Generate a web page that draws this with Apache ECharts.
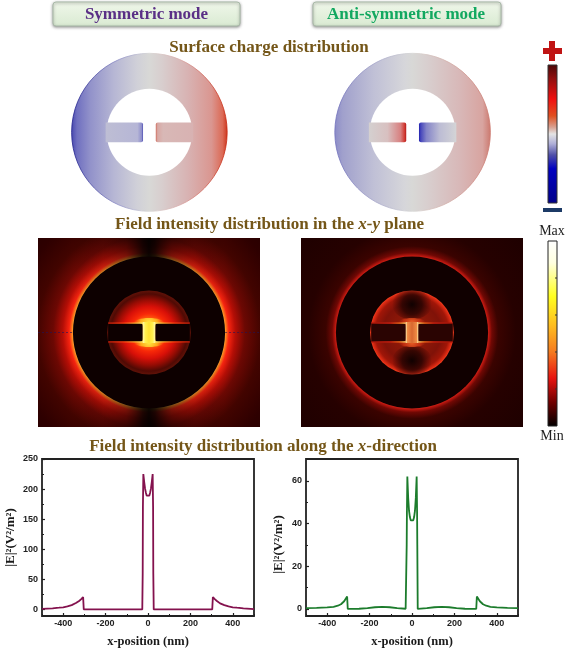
<!DOCTYPE html>
<html style="height: 100%">
<head>
  <meta charset="utf-8">
  <style>
    body { background: #fff; margin: 0; }
  </style>
</head>
<body style="height: 100%; margin: 0">
  <div id="container" style="width: 567px; height: 648px"></div>

  <script type="text/javascript" src="https://cdn.jsdelivr.net/npm/echarts@6/dist/echarts.min.js"></script>
  <script type="text/javascript">
    // values
    var symX = [-500, -450, -420, -400, -380, -360, -340, -325, -315, -306, -303, -250, -100, -27, -25, -24, -22, -18, -14, -10, -6, -3, 0, 3, 6, 10, 14, 18, 22, 24, 25, 27, 100, 250, 303, 306, 315, 325, 340, 360, 380, 400, 420, 450, 500];
    var symE = [1, 1.8, 2.8, 3.5, 5, 7, 10.5, 14, 17, 20.5, 0, 0, 0, 0, 60, 170, 225, 212, 201, 194, 189, 188, 188, 188, 189, 194, 201, 212, 225, 170, 60, 0, 0, 0, 0, 20.5, 17, 14, 10, 7, 5, 3.5, 2.8, 1.8, 0.5];
    var antiX = [-500, -450, -400, -370, -350, -335, -320, -306, -303, -250, -210, -175, -140, -105, -70, -30, -27, -25, -24, -22, -18, -14, -10, -6, -3, 0, 3, 6, 10, 14, 18, 22, 24, 25, 27, 30, 70, 105, 140, 175, 210, 250, 303, 306, 320, 335, 350, 370, 400, 450, 500];
    var antiE = [0.4, 0.5, 0.7, 1, 1.5, 2.2, 3.6, 5.8, 0, 0.1, 0.4, 0.8, 1, 0.8, 0.4, 0.1, 0, 30, 45, 62, 52, 46, 43, 41.5, 41, 41, 41, 41.5, 43, 46, 52, 62, 45, 30, 0, 0.1, 0.4, 0.8, 1, 0.8, 0.4, 0.1, 0, 5.8, 3.6, 2.2, 1.5, 1, 0.7, 0.5, 0.4];
    var xMajor = [-400, -200, 0, 200, 400];
    var xMinor = [-500, -300, -100, 100, 300, 500];
    var symYMajor = [0, 50, 100, 150, 200, 250];
    var symYMinor = [25, 75, 125, 175, 225];
    var antiYMajor = [0, 20, 40, 60];
    var antiYMinor = [10, 30, 50, 70];

    // nanostructure size in nm: ring outer, ring inner, arm half height, gap half width
    var particle = [305, 168, 38, 25];

    var serif = '"Liberation Serif", serif';
    var sans = '"Liberation Sans", sans-serif';
    var brown = '#745618';

    function zip(a, b) {
      return a.map(function (v, i) { return [v, b[i]]; });
    }

    function stops(list) {
      return list.map(function (s) { return { offset: s[0], color: s[1] }; });
    }

    function linearX(x0, x1, list) {
      return { type: 'linear', x: x0, y: 0, x2: x1, y2: 0, global: true, colorStops: stops(list) };
    }

    function radial(x, y, r, list) {
      return { type: 'radial', x: x, y: y, r: r, global: true, colorStops: stops(list) };
    }

    // pixel geometry of the particle on the current grid
    function geom(params, api) {
      var c = api.coord([0, 0]);
      var o = api.size([api.value(0), api.value(0)]);
      var i = api.size([api.value(1), api.value(1)]);
      var a = api.size([api.value(3), api.value(2)]);
      return { cx: c[0], cy: c[1], rx: o[0], ry: o[1], hx: i[0], hy: i[1], g: a[0], a: a[1], box: params.coordSys };
    }

    function chargeItem(palette) {
      return function (params, api) {
        var p = geom(params, api);
        var left = p.cx - p.rx, right = p.cx + p.rx;
        var armEnd = p.hx * Math.sqrt(1 - (p.a * p.a) / (p.hy * p.hy)) + 2;
        return {
          type: 'group',
          children: [
            { type: 'ellipse', shape: { cx: p.cx, cy: p.cy, rx: p.rx, ry: p.ry },
              style: { fill: linearX(left, right, palette.ring), stroke: linearX(left, right, palette.rim), lineWidth: 0.8 } },
            { type: 'ellipse', shape: { cx: p.cx, cy: p.cy, rx: p.hx, ry: p.hy }, style: { fill: '#fff' } },
            { type: 'rect', shape: { x: p.cx - armEnd, y: p.cy - p.a, width: armEnd - p.g, height: 2 * p.a, r: [0, 2, 2, 0] },
              style: { fill: linearX(p.cx - armEnd, p.cx - p.g, palette.leftArm) } },
            { type: 'rect', shape: { x: p.cx + p.g, y: p.cy - p.a, width: armEnd - p.g, height: 2 * p.a, r: [2, 0, 0, 2] },
              style: { fill: linearX(p.cx + p.g, p.cx + armEnd, palette.rightArm) } }
          ]
        };
      };
    }

    var chargeSym = {
      ring: [[0, '#4a4ab0'], [0.035, '#7070c0'], [0.12, '#9292ca'], [0.27, '#b6b6d4'], [0.42, '#d0d0d8'], [0.5, '#d8d8d6'], [0.58, '#d8cece'], [0.75, '#d8b2b2'], [0.9, '#da9690'], [0.97, '#dc6a56'], [1, '#cc3820']],
      rim: [[0, '#20208c'], [0.3, '#9090c8'], [0.5, '#d8d8d6'], [0.7, '#d8a8a8'], [1, '#c82810']],
      leftArm: [[0, '#bebed4'], [0.85, '#b6b6d6'], [0.96, '#9090cc'], [1, '#5050b4']],
      rightArm: [[0, '#d07060'], [0.05, '#d8a8a4'], [0.2, '#d8b8b6'], [1, '#d8b2b2']]
    };
    var chargeAnti = {
      ring: [[0, '#8c8cc8'], [0.05, '#a0a0cc'], [0.25, '#c0c0d6'], [0.45, '#d6d6da'], [0.5, '#d8d8d6'], [0.6, '#d8cece'], [0.8, '#d8b8b8'], [0.95, '#d8a4a0'], [1, '#cc7a70']],
      rim: [[0, '#7070bc'], [0.5, '#d8d8d6'], [1, '#cc7a70']],
      leftArm: [[0, '#d4d0d0'], [0.5, '#d8c0c0'], [0.85, '#d88080'], [0.96, '#d03830'], [1, '#b01818']],
      rightArm: [[0, '#2020b0'], [0.05, '#4848bc'], [0.2, '#8484c8'], [0.55, '#bcbcd4'], [1, '#d4d4d6']]
    };

    function fieldSymItem(params, api) {
      var p = geom(params, api), b = p.box;
      var R = p.rx, H = p.hx;
      var armEnd = Math.sqrt(H * H - p.a * p.a);
      var flare = [[0, 'rgba(255,235,70,1)'], [0.55, 'rgba(255,190,30,0.8)'], [1, 'rgba(255,120,20,0)']];
      var edgeL = [[0, '#d01c08'], [0.45, '#ff4010'], [0.78, '#ffb030'], [1, '#fff070']];
      var edgeR = [[0, '#fff070'], [0.22, '#ffb030'], [0.55, '#ff4010'], [1, '#d01c08']];
      return {
        type: 'group',
        children: [
          { type: 'rect', shape: { x: b.x, y: b.y, width: b.width, height: b.height },
            style: { fill: radial(p.cx, p.cy, 2.1 * R, [[0, '#000'], [0.47, '#ffd060'], [0.48, '#ff8a20'], [0.5, '#f82410'], [0.54, '#b40e06'], [0.6, '#6c0803'], [0.7, '#420400'], [0.85, '#2e0000'], [1, '#240000']]) } },
          { type: 'rect', shape: { x: b.x, y: b.y, width: b.width, height: b.height },
            style: { fill: linearX(p.cx - R, p.cx + R, [[0, 'rgba(0,0,0,0)'], [0.2, 'rgba(0,0,0,0.2)'], [0.35, 'rgba(0,0,0,0.5)'], [0.46, 'rgba(0,0,0,0.88)'], [0.5, 'rgba(0,0,0,0.95)'], [0.54, 'rgba(0,0,0,0.88)'], [0.65, 'rgba(0,0,0,0.5)'], [0.8, 'rgba(0,0,0,0.2)'], [1, 'rgba(0,0,0,0)']]) } },
          { type: 'line', shape: { x1: b.x, y1: p.cy, x2: p.cx - R, y2: p.cy }, style: { stroke: 'rgba(30,20,90,0.6)', lineWidth: 1, lineDash: [2, 2] } },
          { type: 'line', shape: { x1: p.cx + R, y1: p.cy, x2: b.x + b.width, y2: p.cy }, style: { stroke: 'rgba(30,20,90,0.6)', lineWidth: 1, lineDash: [2, 2] } },
          { type: 'circle', shape: { cx: p.cx, cy: p.cy, r: R }, style: { fill: '#0d0000' } },
          { type: 'circle', shape: { cx: p.cx, cy: p.cy, r: H },
            style: { fill: radial(p.cx, p.cy, H, [[0, '#ffa020'], [0.3, '#ff6c10'], [0.45, '#f82808'], [0.62, '#d81008'], [0.78, '#960c04'], [0.92, '#500a04'], [1, '#601208']]) } },
          { type: 'ellipse', shape: { cx: p.cx, cy: p.cy - p.a, rx: p.g + 9, ry: 5 },
            style: { fill: radial(p.cx, p.cy - p.a, p.g + 9, flare) } },
          { type: 'ellipse', shape: { cx: p.cx, cy: p.cy + p.a, rx: p.g + 9, ry: 5 },
            style: { fill: radial(p.cx, p.cy + p.a, p.g + 9, flare) } },
          { type: 'rect', shape: { x: p.cx - armEnd, y: p.cy - p.a, width: armEnd - p.g, height: 2 * p.a, r: [0, 3, 3, 0] }, style: { fill: '#0d0000' } },
          { type: 'rect', shape: { x: p.cx + p.g, y: p.cy - p.a, width: armEnd - p.g, height: 2 * p.a, r: [3, 0, 0, 3] }, style: { fill: '#0d0000' } },
          { type: 'line', shape: { x1: p.cx - armEnd, y1: p.cy - p.a, x2: p.cx - p.g, y2: p.cy - p.a }, style: { lineWidth: 1.3, stroke: linearX(p.cx - armEnd, p.cx - p.g, edgeL) } },
          { type: 'line', shape: { x1: p.cx - armEnd, y1: p.cy + p.a, x2: p.cx - p.g, y2: p.cy + p.a }, style: { lineWidth: 1.3, stroke: linearX(p.cx - armEnd, p.cx - p.g, edgeL) } },
          { type: 'line', shape: { x1: p.cx + p.g, y1: p.cy - p.a, x2: p.cx + armEnd, y2: p.cy - p.a }, style: { lineWidth: 1.3, stroke: linearX(p.cx + p.g, p.cx + armEnd, edgeR) } },
          { type: 'line', shape: { x1: p.cx + p.g, y1: p.cy + p.a, x2: p.cx + armEnd, y2: p.cy + p.a }, style: { lineWidth: 1.3, stroke: linearX(p.cx + p.g, p.cx + armEnd, edgeR) } },
          { type: 'rect', shape: { x: p.cx - p.g, y: p.cy - p.a - 1, width: 2 * p.g, height: 2 * p.a + 2 },
            style: { fill: linearX(p.cx - p.g, p.cx + p.g, [[0, '#fff8b0'], [0.2, '#fff050'], [0.5, '#ffe030'], [0.8, '#fff050'], [1, '#fff8b0']]) } }
        ]
      };
    }

    function fieldAntiItem(params, api) {
      var p = geom(params, api), b = p.box;
      var R = p.rx, H = p.hx;
      var armEnd = Math.sqrt(H * H - p.a * p.a);
      var edgeL = [[0, '#a01408'], [0.55, '#d82010'], [0.82, '#ff7018'], [1, '#ffe070']];
      var edgeR = [[0, '#ffe070'], [0.18, '#ff7018'], [0.45, '#d82010'], [1, '#a01408']];
      var spot = [[0, 'rgba(10,0,0,0.95)'], [0.5, 'rgba(20,0,0,0.7)'], [1, 'rgba(40,0,0,0)']];
      var flare = [[0, 'rgba(235,100,40,1)'], [0.6, 'rgba(215,55,20,0.65)'], [1, 'rgba(180,30,10,0)']];
      return {
        type: 'group',
        children: [
          { type: 'rect', shape: { x: b.x, y: b.y, width: b.width, height: b.height },
            style: { fill: radial(p.cx, p.cy, 2.1 * R, [[0, '#000'], [0.47, '#e83020'], [0.48, '#c01810'], [0.5, '#700804'], [0.54, '#3a0300'], [0.65, '#260100'], [1, '#1c0000']]) } },
          { type: 'circle', shape: { cx: p.cx, cy: p.cy, r: R }, style: { fill: '#100000' } },
          { type: 'circle', shape: { cx: p.cx, cy: p.cy, r: H },
            style: { fill: radial(p.cx, p.cy, H, [[0, '#a82a0e'], [0.4, '#8c1808'], [0.7, '#801208'], [0.88, '#a01608'], [0.97, '#e02c14'], [1, '#f04020']]) } },
          { type: 'ellipse', shape: { cx: p.cx, cy: p.cy - 28, rx: 20, ry: 15 }, style: { fill: radial(p.cx, p.cy - 28, 20, spot) } },
          { type: 'ellipse', shape: { cx: p.cx, cy: p.cy + 28, rx: 20, ry: 15 }, style: { fill: radial(p.cx, p.cy + 28, 20, spot) } },
          { type: 'ellipse', shape: { cx: p.cx, cy: p.cy - p.a, rx: p.g + 8, ry: 5 }, style: { fill: radial(p.cx, p.cy - p.a, p.g + 8, flare) } },
          { type: 'ellipse', shape: { cx: p.cx, cy: p.cy + p.a, rx: p.g + 8, ry: 5 }, style: { fill: radial(p.cx, p.cy + p.a, p.g + 8, flare) } },
          { type: 'rect', shape: { x: p.cx - armEnd, y: p.cy - p.a, width: armEnd - p.g, height: 2 * p.a, r: [0, 3, 3, 0] }, style: { fill: '#2a0402' } },
          { type: 'rect', shape: { x: p.cx + p.g, y: p.cy - p.a, width: armEnd - p.g, height: 2 * p.a, r: [3, 0, 0, 3] }, style: { fill: '#2a0402' } },
          { type: 'line', shape: { x1: p.cx - armEnd, y1: p.cy - p.a, x2: p.cx - p.g, y2: p.cy - p.a }, style: { lineWidth: 1.3, stroke: linearX(p.cx - armEnd, p.cx - p.g, edgeL) } },
          { type: 'line', shape: { x1: p.cx - armEnd, y1: p.cy + p.a, x2: p.cx - p.g, y2: p.cy + p.a }, style: { lineWidth: 1.3, stroke: linearX(p.cx - armEnd, p.cx - p.g, edgeL) } },
          { type: 'line', shape: { x1: p.cx + p.g, y1: p.cy - p.a, x2: p.cx + armEnd, y2: p.cy - p.a }, style: { lineWidth: 1.3, stroke: linearX(p.cx + p.g, p.cx + armEnd, edgeR) } },
          { type: 'line', shape: { x1: p.cx + p.g, y1: p.cy + p.a, x2: p.cx + armEnd, y2: p.cy + p.a }, style: { lineWidth: 1.3, stroke: linearX(p.cx + p.g, p.cx + armEnd, edgeR) } },
          { type: 'rect', shape: { x: p.cx - p.g, y: p.cy - p.a - 1, width: 2 * p.g, height: 2 * p.a + 2 },
            style: { fill: linearX(p.cx - p.g, p.cx + p.g, [[0, '#fff4b0'], [0.14, '#ee8a44'], [0.5, '#d86830'], [0.86, '#ee8a44'], [1, '#fff4b0']]) } }
        ]
      };
    }

    // one plot takes two axes on each side: long ticks with labels, short ticks without
    function lineAxes(gridIndex, yMin, yMax, yMajor, yMinor) {
      var labelStyle = { fontFamily: sans, fontWeight: 'bold', fontSize: 9, color: '#222' };
      var noLine = { show: false, onZero: false };
      return {
        x: [
          { type: 'value', gridIndex: gridIndex, position: 'bottom', min: -500, max: 500,
            name: 'x-position (nm)', nameLocation: 'middle', nameGap: 19,
            nameTextStyle: { fontFamily: serif, fontWeight: 'bold', fontSize: 12.5, color: '#1a1a1a' },
            axisLine: noLine,
            axisTick: { inside: true, length: 3, customValues: xMajor, lineStyle: { color: '#222', width: 1.2 } },
            axisLabel: Object.assign({ margin: 3, customValues: xMajor }, labelStyle),
            splitLine: { show: false } },
          { type: 'value', gridIndex: gridIndex, position: 'bottom', min: -500, max: 500,
            axisLine: noLine,
            axisTick: { inside: true, length: 2, customValues: xMinor, lineStyle: { color: '#222' } },
            axisLabel: { show: false }, splitLine: { show: false } }
        ],
        y: [
          { type: 'value', gridIndex: gridIndex, position: 'left', min: yMin, max: yMax,
            axisLine: noLine,
            axisTick: { inside: true, length: 3, customValues: yMajor, lineStyle: { color: '#222', width: 1.2 } },
            axisLabel: Object.assign({ margin: 4, customValues: yMajor }, labelStyle),
            splitLine: { show: false } },
          { type: 'value', gridIndex: gridIndex, position: 'left', min: yMin, max: yMax,
            axisLine: noLine,
            axisTick: { inside: true, length: 2, customValues: yMinor, lineStyle: { color: '#222' } },
            axisLabel: { show: false }, splitLine: { show: false } }
        ]
      };
    }

    function hiddenAxes(gridIndex, xHalf, yHalf) {
      return {
        x: { type: 'value', gridIndex: gridIndex, show: false, min: -xHalf, max: xHalf },
        y: { type: 'value', gridIndex: gridIndex, show: false, min: -yHalf, max: yHalf }
      };
    }

    function headline(x, y, text, color, size) {
      return { type: 'text', x: x, y: y, z: 10,
        style: { text: text, fill: color, align: 'center', verticalAlign: 'middle', font: 'bold ' + (size || 17) + 'px ' + serif,
          rich: { i: { fontStyle: 'italic', fontWeight: 'bold', fontFamily: serif, fontSize: size || 17, fill: color } } } };
    }

    function modeBox(x, width) {
      return { type: 'rect', z: 5, shape: { x: x, y: 2, width: width, height: 24, r: 3 },
        style: { fill: { type: 'linear', x: 0, y: 0, x2: 0, y2: 1, colorStops: stops([[0, '#f0f7ea'], [1, '#d9ead2']]) },
          stroke: '#a9baa8', lineWidth: 1, shadowBlur: 3, shadowOffsetY: 1, shadowColor: 'rgba(0,0,0,0.4)' } };
    }

    function colorBar(y, height, list, frame) {
      return { type: 'rect', z: 5, shape: { x: 548, y: y, width: 9, height: height },
        style: { fill: { type: 'linear', x: 0, y: 0, x2: 0, y2: 1, colorStops: stops(list) }, stroke: frame, lineWidth: 1 } };
    }

    function barTick(y) {
      return { type: 'line', z: 6, shape: { x1: 555, y1: y, x2: 557, y2: y }, style: { stroke: '#333', lineWidth: 1 } };
    }

    var heatStops = [[0, '#ffffff'], [0.12, '#ffffe0'], [0.3, '#ffff20'], [0.45, '#ffc020'], [0.6, '#f47a20'], [0.74, '#e81410'], [0.87, '#700000'], [1, '#000000']];
    var chargeStops = [[0, '#4a0808'], [0.1, '#901010'], [0.25, '#f01010'], [0.37, '#e05020'], [0.45, '#d8a090'], [0.5, '#e4e4e4'], [0.57, '#b0b0d8'], [0.65, '#5050a8'], [0.75, '#0000c0'], [1, '#000088']];

    var left = lineAxes(0, -11, 250, symYMajor, symYMinor);
    var right = lineAxes(1, -3.3, 70.2, antiYMajor, antiYMinor);
    right.y[0].name = left.y[0].name = '|E|\u00b2(V\u00b2/m\u00b2)';
    [left, right].forEach(function (a) {
      a.y[0].nameLocation = 'middle';
      a.y[0].nameRotate = 90;
    });
    left.y[0].nameGap = 25;
    right.y[0].nameGap = 21;
    left.y[0].nameTextStyle = { fontFamily: serif, fontWeight: 'bold', fontSize: 13, color: '#1a1a1a' };
    right.y[0].nameTextStyle = { fontFamily: serif, fontWeight: 'bold', fontSize: 13, color: '#1a1a1a', padding: [0, 14, 0, 0] };

    var chargeL = hiddenAxes(2, 320, 320), chargeR = hiddenAxes(3, 320, 320);
    var mapL = hiddenAxes(4, 445, 379), mapR = hiddenAxes(5, 445, 379);

    var frame = { show: true, borderColor: '#222', borderWidth: 1.8, backgroundColor: 'transparent', outerBoundsMode: 'none' };

    var option = {
      animation: false,
      backgroundColor: '#fff',
      grid: [
        Object.assign({ left: 42, top: 459, width: 212, height: 157 }, frame),
        Object.assign({ left: 306, top: 459, width: 212, height: 157 }, frame),
        { left: 67.8, top: 49.4, width: 163.2, height: 165.8, outerBoundsMode: 'none' },
        { left: 331, top: 49.4, width: 163.2, height: 165.8, outerBoundsMode: 'none' },
        { left: 38, top: 238, width: 222, height: 189, outerBoundsMode: 'none' },
        { left: 301, top: 238, width: 222, height: 189, outerBoundsMode: 'none' }
      ],
      xAxis: left.x.concat(right.x, chargeL.x, chargeR.x, mapL.x, mapR.x),
      yAxis: left.y.concat(right.y, chargeL.y, chargeR.y, mapL.y, mapR.y),
      series: [
        { type: 'line', xAxisIndex: 0, yAxisIndex: 0, data: zip(symX, symE), showSymbol: false, lineStyle: { color: '#84124e', width: 1.8 } },
        { type: 'line', xAxisIndex: 2, yAxisIndex: 2, data: zip(antiX, antiE), showSymbol: false, lineStyle: { color: '#1c7c2c', width: 1.8 } },
        { type: 'custom', xAxisIndex: 4, yAxisIndex: 4, clip: false, silent: true, data: [particle], renderItem: chargeItem(chargeSym) },
        { type: 'custom', xAxisIndex: 5, yAxisIndex: 5, clip: false, silent: true, data: [particle], renderItem: chargeItem(chargeAnti) },
        { type: 'custom', xAxisIndex: 6, yAxisIndex: 6, clip: false, silent: true, data: [particle], renderItem: fieldSymItem },
        { type: 'custom', xAxisIndex: 7, yAxisIndex: 7, clip: false, silent: true, data: [particle], renderItem: fieldAntiItem }
      ],
      graphic: {
        elements: [
          modeBox(53, 187),
          modeBox(313, 188),
          headline(146.5, 14.5, 'Symmetric mode', '#5a2f86', 17),
          headline(406, 14.5, 'Anti-symmetric mode', '#12a860', 17),
          headline(269, 47.5, 'Surface charge distribution', brown),
          headline(269.5, 225, 'Field intensity distribution in the {i|x-y} plane', brown),
          headline(263, 447, 'Field intensity distribution along the {i|x}-direction', brown),
          colorBar(65, 138, chargeStops, '#333'),
          colorBar(241, 185, heatStops, '#222'),
          barTick(278), barTick(315), barTick(352), barTick(389),
          { type: 'rect', z: 6, shape: { x: 543, y: 48, width: 19, height: 6 }, style: { fill: '#c01414' } },
          { type: 'rect', z: 6, shape: { x: 549, y: 41, width: 6, height: 20 }, style: { fill: '#c01414' } },
          { type: 'rect', z: 6, shape: { x: 543, y: 208, width: 19, height: 4 }, style: { fill: '#1c3a66' } },
          { type: 'text', z: 6, x: 552, y: 231.5, style: { text: 'Max', fill: '#222', align: 'center', verticalAlign: 'middle', font: '14px ' + serif } },
          { type: 'text', z: 6, x: 552, y: 436, style: { text: 'Min', fill: '#222', align: 'center', verticalAlign: 'middle', font: '14px ' + serif } }
        ]
      }
    };

    var myChart = echarts.init(document.getElementById('container'));
    myChart.setOption(option);
  </script>
</body>
</html>
